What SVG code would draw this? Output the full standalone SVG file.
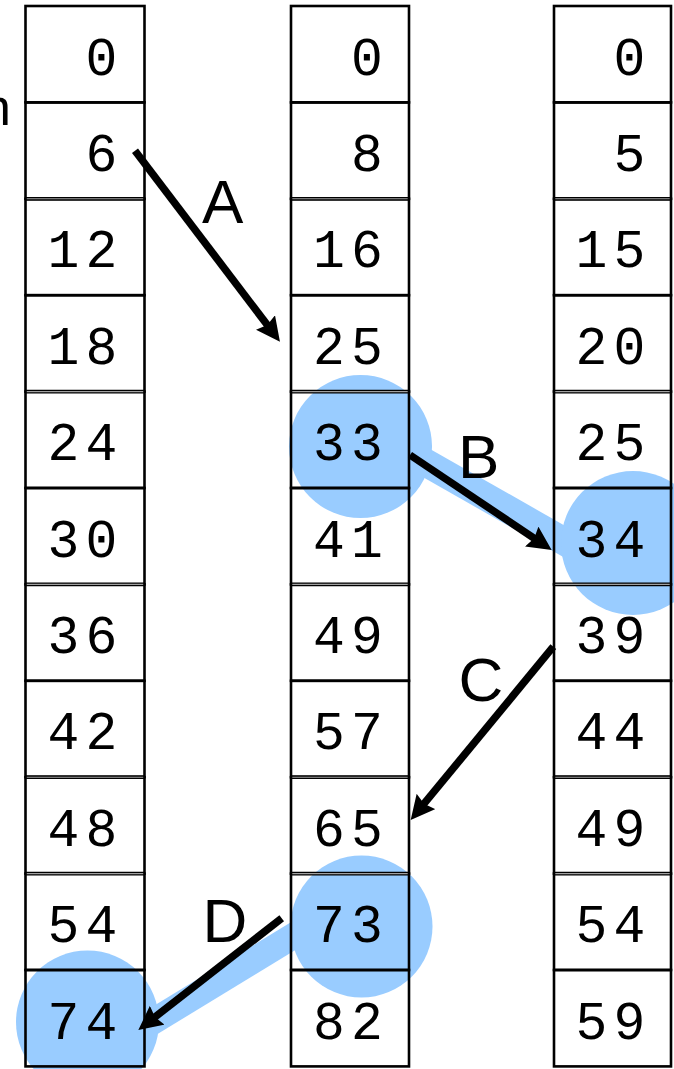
<svg xmlns="http://www.w3.org/2000/svg" width="674" height="1069" viewBox="0 0 674 1069">
<style>
.cell{fill:none;stroke:#000;stroke-width:2.6}
.num{font-family:"Liberation Mono","DejaVu Sans Mono",monospace;font-size:53px;letter-spacing:6.2px;fill:#000}
.lbl{font-family:"Liberation Sans",Arial,sans-serif;font-size:62px;fill:#000}
.dbl{stroke:#000;stroke-width:3.8}
.gap{stroke:#a0a0a0;stroke-width:1.1}
.hl{fill:#99ccff}
.band{stroke:#99ccff;fill:none}
.arr{stroke:#000;stroke-width:7.5;fill:none;marker-end:url(#head)}
</style>
<defs>
<marker id="head" viewBox="0 0 24 24" refX="12" refY="12" markerWidth="24" markerHeight="24" markerUnits="userSpaceOnUse" orient="auto">
<path d="M0,0 L24,12 L0,24 L3,12 z" fill="#000"/>
</marker>
</defs>
<rect width="674" height="1069" fill="#fff"/>
<g id="highlights">
<line class="band" x1="380" y1="436.6" x2="600" y2="561.8" stroke-width="28"/>
<line class="band" x1="330" y1="913.6" x2="120" y2="1041.7" stroke-width="26"/>
<circle class="hl" cx="360.5" cy="446.5" r="71.5"/>
<circle class="hl" cx="633" cy="543" r="72"/>
<circle class="hl" cx="361.5" cy="926.5" r="71"/>
<circle class="hl" cx="87.5" cy="1022" r="71.5"/>
</g>
<text x="11" y="125" class="lbl" font-size="52" text-anchor="end" style="font-size:52px">n</text>
<g id="col1">
<g id="c1r0"><rect class="cell" x="25.5" y="6" width="119" height="96.4"/><text class="num" x="85.5" y="74.5">0</text></g>
<g id="c1r1"><rect class="cell" x="25.5" y="102.4" width="119" height="96.4"/><text class="num" x="85.5" y="170.9">6</text></g>
<g id="c1r2"><rect class="cell" x="25.5" y="198.8" width="119" height="96.4"/><text class="num" x="47.5" y="267.3">12</text></g>
<g id="c1r3"><rect class="cell" x="25.5" y="295.2" width="119" height="96.4"/><text class="num" x="47.5" y="363.7">18</text></g>
<g id="c1r4"><rect class="cell" x="25.5" y="391.6" width="119" height="96.4"/><text class="num" x="47.5" y="460.1">24</text></g>
<g id="c1r5"><rect class="cell" x="25.5" y="488" width="119" height="96.4"/><text class="num" x="47.5" y="556.5">30</text></g>
<g id="c1r6"><rect class="cell" x="25.5" y="584.4" width="119" height="96.4"/><text class="num" x="47.5" y="652.9">36</text></g>
<g id="c1r7"><rect class="cell" x="25.5" y="680.8" width="119" height="96.4"/><text class="num" x="47.5" y="749.3">42</text></g>
<g id="c1r8"><rect class="cell" x="25.5" y="777.2" width="119" height="96.4"/><text class="num" x="47.5" y="845.7">48</text></g>
<g id="c1r9"><rect class="cell" x="25.5" y="873.6" width="119" height="96.4"/><text class="num" x="47.5" y="942.1">54</text></g>
<g id="c1r10"><rect class="cell" x="25.5" y="970" width="119" height="96.4"/><text class="num" x="47.5" y="1038.5">74</text></g>
</g>
<g id="col2">
<g id="c2r0"><rect class="cell" x="291" y="6" width="118" height="96.4"/><text class="num" x="351" y="74.5">0</text></g>
<g id="c2r1"><rect class="cell" x="291" y="102.4" width="118" height="96.4"/><text class="num" x="351" y="170.9">8</text></g>
<g id="c2r2"><rect class="cell" x="291" y="198.8" width="118" height="96.4"/><text class="num" x="313" y="267.3">16</text></g>
<g id="c2r3"><rect class="cell" x="291" y="295.2" width="118" height="96.4"/><text class="num" x="313" y="363.7">25</text></g>
<g id="c2r4"><rect class="cell" x="291" y="391.6" width="118" height="96.4"/><text class="num" x="313" y="460.1">33</text></g>
<g id="c2r5"><rect class="cell" x="291" y="488" width="118" height="96.4"/><text class="num" x="313" y="556.5">41</text></g>
<g id="c2r6"><rect class="cell" x="291" y="584.4" width="118" height="96.4"/><text class="num" x="313" y="652.9">49</text></g>
<g id="c2r7"><rect class="cell" x="291" y="680.8" width="118" height="96.4"/><text class="num" x="313" y="749.3">57</text></g>
<g id="c2r8"><rect class="cell" x="291" y="777.2" width="118" height="96.4"/><text class="num" x="313" y="845.7">65</text></g>
<g id="c2r9"><rect class="cell" x="291" y="873.6" width="118" height="96.4"/><text class="num" x="313" y="942.1">73</text></g>
<g id="c2r10"><rect class="cell" x="291" y="970" width="118" height="96.4"/><text class="num" x="313" y="1038.5">82</text></g>
</g>
<g id="col3">
<g id="c3r0"><rect class="cell" x="554" y="6" width="117" height="96.4"/><text class="num" x="613.5" y="74.5">0</text></g>
<g id="c3r1"><rect class="cell" x="554" y="102.4" width="117" height="96.4"/><text class="num" x="613.5" y="170.9">5</text></g>
<g id="c3r2"><rect class="cell" x="554" y="198.8" width="117" height="96.4"/><text class="num" x="575.5" y="267.3">15</text></g>
<g id="c3r3"><rect class="cell" x="554" y="295.2" width="117" height="96.4"/><text class="num" x="575.5" y="363.7">20</text></g>
<g id="c3r4"><rect class="cell" x="554" y="391.6" width="117" height="96.4"/><text class="num" x="575.5" y="460.1">25</text></g>
<g id="c3r5"><rect class="cell" x="554" y="488" width="117" height="96.4"/><text class="num" x="575.5" y="556.5">34</text></g>
<g id="c3r6"><rect class="cell" x="554" y="584.4" width="117" height="96.4"/><text class="num" x="575.5" y="652.9">39</text></g>
<g id="c3r7"><rect class="cell" x="554" y="680.8" width="117" height="96.4"/><text class="num" x="575.5" y="749.3">44</text></g>
<g id="c3r8"><rect class="cell" x="554" y="777.2" width="117" height="96.4"/><text class="num" x="575.5" y="845.7">49</text></g>
<g id="c3r9"><rect class="cell" x="554" y="873.6" width="117" height="96.4"/><text class="num" x="575.5" y="942.1">54</text></g>
<g id="c3r10"><rect class="cell" x="554" y="970" width="117" height="96.4"/><text class="num" x="575.5" y="1038.5">59</text></g>
</g>
<g id="double-borders">
<path class="dbl" d="M25.5 198.8H144.5M25.5 391.6H144.5M25.5 584.4H144.5M25.5 777.2H144.5M25.5 873.6H144.5M291 198.8H409M291 391.6H409M291 584.4H409M291 777.2H409M291 873.6H409M554 198.8H671M554 391.6H671M554 584.4H671M554 777.2H671M554 873.6H671"/>
<path class="gap" d="M26.8 198.8H143.2M26.8 391.6H143.2M26.8 584.4H143.2M26.8 777.2H143.2M26.8 873.6H143.2M292.3 198.8H407.7M292.3 391.6H407.7M292.3 584.4H407.7M292.3 777.2H407.7M292.3 873.6H407.7M555.3 198.8H669.7M555.3 391.6H669.7M555.3 584.4H669.7M555.3 777.2H669.7M555.3 873.6H669.7"/>
</g>
<g id="connectors">
<line class="arr" x1="135" y1="150.7" x2="272.7" y2="332.1"/>
<line class="arr" x1="410" y1="455" x2="541.7" y2="543.3"/>
<line class="arr" x1="553.3" y1="646.7" x2="418.3" y2="810.7"/>
<line class="arr" x1="281.7" y1="918.3" x2="147.8" y2="1022.6"/>
<text class="lbl" x="202" y="222.7">A</text>
<text class="lbl" x="458" y="478.3">B</text>
<text class="lbl" x="458.6" y="700.5">C</text>
<text class="lbl" x="202.4" y="941.7">D</text>
</g>
</svg>
